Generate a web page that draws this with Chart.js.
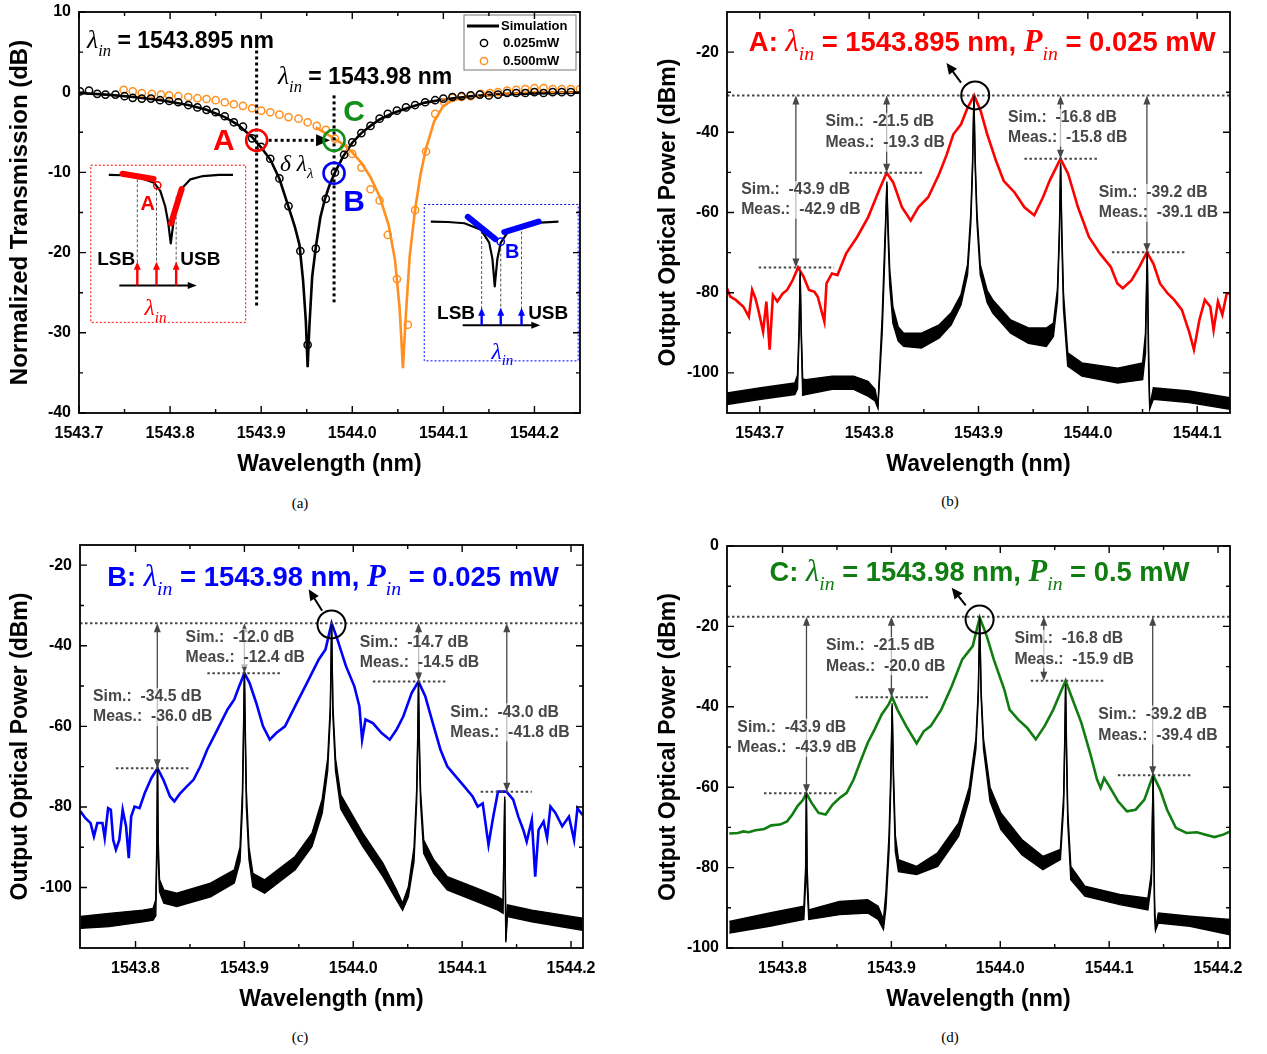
<!DOCTYPE html>
<html>
<head>
<meta charset="utf-8">
<script src="https://cdn.jsdelivr.net/npm/chart.js@4.4.1/dist/chart.umd.min.js"></script>
<style>
  body { margin: 0; background: #fff; width: 1267px; height: 1054px; position: relative; overflow: hidden; }
  canvas { position: absolute; }
  .cap { position: absolute; font: 15px "Liberation Serif", serif; transform: translateX(-50%); }
</style>
</head>
<body>
<canvas id="ca" width="600" height="478" style="left:0;top:0"></canvas>
<canvas id="cb" width="627" height="478" style="left:640px;top:0"></canvas>
<canvas id="cc" width="620" height="483" style="left:0;top:530px"></canvas>
<canvas id="cd" width="627" height="483" style="left:640px;top:530px"></canvas>
<div class="cap" style="left:300px;top:495px">(a)</div>
<div class="cap" style="left:950px;top:493px">(b)</div>
<div class="cap" style="left:300px;top:1029px">(c)</div>
<div class="cap" style="left:950px;top:1029px">(d)</div>
<script>
"use strict";

// ---------- (a) transmission ----------
const aSimX = [1543.700, 1543.730, 1543.760, 1543.790, 1543.820, 1543.840, 1543.860, 1543.875, 1543.890, 1543.900,
  1543.910, 1543.920, 1543.930, 1543.937, 1543.942, 1543.946, 1543.949, 1543.951, 1543.953, 1543.956,
  1543.960, 1543.965, 1543.970, 1543.975, 1543.981, 1543.990, 1544.000, 1544.010, 1544.020, 1544.030,
  1544.045, 1544.060, 1544.080, 1544.100, 1544.130, 1544.160, 1544.200, 1544.250];
const aSimY = [-0.1, -0.3, -0.6, -1.0, -1.6, -2.2, -3.1, -4.1, -5.6, -6.9,
  -8.4, -10.8, -14.3, -16.8, -19.0, -23.5, -28.5, -34.3, -29.0, -23.0,
  -19.3, -15.6, -13.3, -11.6, -10.0, -8.0, -6.3, -5.1, -4.2, -3.4,
  -2.6, -2.0, -1.3, -0.9, -0.5, -0.3, -0.15, -0.05];
const aSimHiX = [1543.960, 1543.975, 1543.990, 1544.000, 1544.010, 1544.020, 1544.030, 1544.040, 1544.047, 1544.052,
  1544.0556, 1544.059, 1544.063, 1544.069, 1544.075, 1544.081, 1544.090, 1544.100, 1544.110, 1544.130,
  1544.160, 1544.200, 1544.250];
const aSimHiY = [-4.4, -5.4, -6.5, -7.5, -8.8, -10.6, -13.0, -16.6, -21.0, -27.0,
  -34.4, -27.5, -20.5, -14.6, -10.2, -7.0, -3.6, -1.7, -1.0, -0.5,
  -0.2, -0.05, 0.0];
const aLowX = [1543.701, 1543.711, 1543.720, 1543.729, 1543.740, 1543.750, 1543.759, 1543.769, 1543.779, 1543.789,
  1543.799, 1543.809, 1543.820, 1543.830, 1543.840, 1543.850, 1543.860, 1543.870, 1543.880, 1543.890,
  1543.900, 1543.910, 1543.920, 1543.930, 1543.943, 1543.951, 1543.960, 1543.971, 1543.981, 1543.991,
  1544.000, 1544.010, 1544.020, 1544.030, 1544.039, 1544.049, 1544.059, 1544.069, 1544.080, 1544.091,
  1544.100, 1544.110, 1544.120, 1544.130, 1544.140, 1544.150, 1544.160, 1544.170, 1544.180, 1544.190,
  1544.200, 1544.210, 1544.220, 1544.230, 1544.240];
const aLowY = [0.1, 0.2, -0.2, -0.3, -0.3, -0.5, -0.7, -0.8, -0.8, -1.0,
  -1.1, -1.25, -1.6, -1.9, -2.2, -2.5, -3.0, -3.75, -4.3, -5.75,
  -6.8, -8.3, -10.75, -14.2, -19.8, -31.5, -19.5, -13.3, -10.0, -7.8,
  -6.25, -5.1, -4.2, -3.3, -2.7, -2.3, -1.9, -1.6, -1.25, -1.0,
  -0.8, -0.6, -0.5, -0.4, -0.3, -0.4, -0.3, -0.1, -0.1, -0.1,
  0.0, -0.1, 0.0, 0.0, 0.0];
const aHighX = [1543.749, 1543.759, 1543.769, 1543.780, 1543.790, 1543.799, 1543.809, 1543.820, 1543.830, 1543.840,
  1543.850, 1543.860, 1543.870, 1543.880, 1543.890, 1543.900, 1543.910, 1543.920, 1543.930, 1543.941,
  1543.951, 1543.961, 1543.971, 1543.981, 1543.991, 1544.000, 1544.010, 1544.020, 1544.030, 1544.039,
  1544.049, 1544.061, 1544.069, 1544.081, 1544.091, 1544.101, 1544.110, 1544.120, 1544.130, 1544.141,
  1544.151, 1544.160, 1544.170, 1544.180, 1544.190, 1544.200, 1544.210, 1544.220, 1544.230, 1544.240,
  1544.250];
const aHighY = [0.3, 0.1, -0.1, -0.2, -0.3, -0.4, -0.5, -0.6, -0.75, -0.85,
  -1.0, -1.25, -1.5, -1.7, -2.0, -2.3, -2.5, -2.8, -3.1, -3.3,
  -3.75, -4.2, -4.7, -5.8, -6.9, -7.7, -9.4, -12.1, -13.5, -17.8,
  -23.3, -29.0, -14.7, -7.4, -2.7, -1.25, -0.7, -0.6, -0.5, -0.2,
  -0.1, 0.0, 0.2, 0.3, 0.4, 0.5, 0.5, 0.4, 0.4, 0.4,
  0.4];
const aXTicks = [1543.7, 1543.8, 1543.9, 1544.0, 1544.1, 1544.2];
const aXMinor = [1543.75, 1543.85, 1543.95, 1544.05, 1544.15];
const aYTicks = [10, 0, -10, -20, -30, -40];
const aYMinor = [5, -5, -15, -25, -35];
const lambdaA = 1543.895, lambdaBC = 1543.98;

// ---------- (b) A: 1543.895 nm, 0.025 mW ----------
const bMeasX = [1543.670, 1543.673, 1543.678, 1543.685, 1543.690, 1543.693, 1543.696, 1543.699, 1543.703, 1543.706,
  1543.709, 1543.712, 1543.716, 1543.721, 1543.725, 1543.730, 1543.735, 1543.740, 1543.745, 1543.750,
  1543.753, 1543.759, 1543.761, 1543.766, 1543.771, 1543.779, 1543.789, 1543.799, 1543.809, 1543.816,
  1543.822, 1543.830, 1543.838, 1543.845, 1543.854, 1543.864, 1543.871, 1543.877, 1543.884, 1543.890,
  1543.896, 1543.902, 1543.908, 1543.916, 1543.923, 1543.933, 1543.942, 1543.951, 1543.959, 1543.965,
  1543.975, 1543.982, 1543.991, 1544.001, 1544.011, 1544.021, 1544.027, 1544.032, 1544.040, 1544.047,
  1544.054, 1544.060, 1544.066, 1544.073, 1544.079, 1544.086, 1544.093, 1544.097, 1544.102, 1544.107,
  1544.112, 1544.115, 1544.119, 1544.123, 1544.127, 1544.130];
const bMeasY = [-78.9, -81.0, -81.8, -83.5, -86.0, -79.3, -81.4, -84.7, -89.7, -82.2,
  -94.2, -80.6, -82.2, -80.2, -79.3, -76.9, -73.7, -76.0, -79.3, -79.8,
  -81.0, -87.2, -77.7, -75.2, -75.6, -70.2, -66.1, -61.2, -54.5, -50.1,
  -52.5, -58.7, -62.0, -58.7, -56.2, -50.4, -45.5, -40.5, -38.0, -33.9,
  -30.8, -34.7, -40.5, -47.1, -52.1, -55.0, -58.7, -60.7, -56.2, -52.1,
  -46.6, -50.4, -58.7, -66.1, -70.2, -73.6, -77.7, -78.9, -76.9, -73.6,
  -69.9, -72.8, -77.7, -80.2, -81.8, -84.3, -90.1, -94.2, -86.8, -81.8,
  -83.5, -89.3, -82.2, -85.5, -80.2, -80.2];
const bSimX = [1543.6700, 1543.7010, 1543.7320, 1543.7345, 1543.7360, 1543.7369, 1543.7378, 1543.7392, 1543.7420, 1543.7662,
  1543.7858, 1543.7989, 1543.8054, 1543.8080, 1543.8119, 1543.8142, 1543.8153, 1543.8162, 1543.8172, 1543.8188,
  1543.8217, 1543.8265, 1543.8315, 1543.8478, 1543.8641, 1543.8750, 1543.8840, 1543.8900, 1543.8930, 1543.8946,
  1543.8958, 1543.8970, 1543.8986, 1543.9016, 1543.9080, 1543.9131, 1543.9294, 1543.9457, 1543.9620, 1543.9685,
  1543.9722, 1543.9740, 1543.9751, 1543.9762, 1543.9777, 1543.9816, 1543.9946, 1544.0273, 1544.0501, 1544.0527,
  1544.0543, 1544.0556, 1544.0566, 1544.0599, 1544.0925, 1544.1300];
const bSimUp = [-105.0, -103.7, -102.5, -100.5, -88.0, -74.7, -88.0, -101.5, -101.7, -100.8,
  -100.8, -102.1, -104.1, -108.0, -85.9, -68.0, -60.0, -52.3, -62.0, -74.0,
  -83.5, -88.5, -90.1, -90.1, -88.0, -85.0, -80.5, -73.0, -60.0, -47.0,
  -30.8, -47.0, -60.0, -73.0, -79.5, -81.8, -86.8, -88.8, -88.8, -87.6,
  -79.0, -64.0, -47.6, -64.0, -80.0, -95.0, -97.5, -98.8, -97.5, -90.1,
  -70.0, -95.0, -108.4, -103.7, -104.5, -106.2];
const bSimLo = [-107.9, -106.6, -105.4, -104.0, -90.0, -75.4, -90.0, -105.6, -105.4, -104.1,
  -104.1, -105.8, -107.0, -108.8, -90.1, -72.0, -62.0, -53.0, -65.0, -78.0,
  -87.6, -92.0, -93.4, -93.8, -91.3, -88.0, -83.0, -75.5, -62.5, -49.0,
  -31.3, -49.0, -62.5, -75.5, -82.5, -85.1, -90.1, -92.6, -93.4, -90.9,
  -82.0, -66.0, -48.2, -67.0, -84.0, -98.3, -100.8, -102.5, -101.7, -95.0,
  -70.8, -99.0, -109.0, -106.6, -107.4, -109.1];
const bSimDb = [-43.9, -21.5, -16.8, -39.2];
const bMeasDb = [-42.9, -19.3, -15.8, -39.1];
const bCarrier = -30.8;
const bXTicks = [1543.7, 1543.8, 1543.9, 1544.0, 1544.1];
const bXMinor = [1543.75, 1543.85, 1543.95, 1544.05];
const bYTicks = [-20, -40, -60, -80, -100];
const bYMinor = [-30, -50, -70, -90];

// ---------- (c) B: 1543.98 nm, 0.025 mW ----------
const cMeasX = [1543.7494, 1543.7540, 1543.7587, 1543.7618, 1543.7649, 1543.7696, 1543.7717, 1543.7748, 1543.7773, 1543.7795,
  1543.7820, 1543.7851, 1543.7882, 1543.7913, 1543.7938, 1543.7960, 1543.7991, 1543.8037, 1543.8084, 1543.8146,
  1543.8202, 1543.8255, 1543.8317, 1543.8357, 1543.8410, 1543.8472, 1543.8534, 1543.8596, 1543.8658, 1543.8752,
  1543.8845, 1543.8907, 1543.8953, 1543.9000, 1543.9047, 1543.9109, 1543.9171, 1543.9233, 1543.9295, 1543.9373,
  1543.9466, 1543.9590, 1543.9683, 1543.9745, 1543.9801, 1543.9854, 1543.9932, 1544.0009, 1544.0056, 1544.0081,
  1544.0112, 1544.0180, 1544.0258, 1544.0335, 1544.0398, 1544.0460, 1544.0537, 1544.0599, 1544.0661, 1544.0739,
  1544.0801, 1544.0863, 1544.0941, 1544.1019, 1544.1096, 1544.1143, 1544.1189, 1544.1242, 1544.1283, 1544.1329,
  1544.1407, 1544.1469, 1544.1516, 1544.1562, 1544.1593, 1544.1640, 1544.1671, 1544.1702, 1544.1748, 1544.1780,
  1544.1811, 1544.1857, 1544.1919, 1544.1981, 1544.2028, 1544.2059, 1544.2106];
const cMeasY = [-81.1, -82.8, -84.0, -87.3, -84.0, -84.0, -87.7, -80.3, -80.7, -88.2,
  -90.6, -88.2, -80.7, -84.8, -92.7, -82.4, -79.9, -80.3, -76.6, -72.8,
  -70.4, -73.2, -77.4, -78.6, -76.6, -74.9, -73.2, -69.9, -65.8, -60.8,
  -55.8, -53.3, -50.0, -46.8, -49.2, -54.2, -60.0, -63.3, -61.6, -60.0,
  -55.0, -48.4, -43.4, -40.9, -34.4, -38.4, -45.0, -50.0, -55.0, -63.3,
  -58.3, -59.2, -61.6, -63.3, -60.8, -57.5, -51.7, -48.9, -52.5, -60.0,
  -65.8, -69.9, -72.4, -74.9, -77.4, -79.9, -79.1, -89.4, -82.8, -76.2,
  -76.2, -78.2, -82.4, -85.7, -88.6, -83.2, -97.3, -85.7, -83.6, -87.7,
  -79.9, -81.5, -84.8, -82.4, -88.2, -80.3, -82.0];
const cSimX = [1543.7494, 1543.7758, 1543.8068, 1543.8161, 1543.8186, 1543.8196, 1543.8202, 1543.8208, 1543.8220, 1543.8260,
  1543.8379, 1543.8689, 1543.8907, 1543.8960, 1543.8982, 1543.8992, 1543.9000, 1543.9008, 1543.9018, 1543.9042,
  1543.9078, 1543.9186, 1543.9466, 1543.9621, 1543.9715, 1543.9765, 1543.9789, 1543.9801, 1543.9813, 1543.9837,
  1543.9885, 1544.0087, 1544.0273, 1544.0398, 1544.0453, 1544.0506, 1544.0558, 1544.0582, 1544.0592, 1544.0599,
  1544.0606, 1544.0618, 1544.0647, 1544.0739, 1544.0863, 1544.1174, 1544.1329, 1544.1376, 1544.1391, 1544.1401,
  1544.1416, 1544.1640, 1544.2106];
const cSimUp = [-107.2, -106.4, -105.6, -105.2, -103.0, -88.0, -68.9, -88.0, -98.0, -100.6,
  -101.4, -98.9, -95.6, -90.0, -76.0, -60.0, -46.4, -60.0, -76.0, -90.0,
  -96.5, -98.1, -92.3, -86.5, -78.0, -68.0, -55.0, -34.4, -55.0, -68.0,
  -77.0, -86.5, -94.0, -100.6, -103.9, -99.8, -90.0, -76.0, -62.0, -49.1,
  -62.0, -76.0, -88.2, -93.1, -97.3, -100.6, -102.3, -103.1, -77.4, -113.0,
  -104.3, -105.6, -107.6];
const cSimLo = [-110.1, -109.7, -108.5, -108.1, -107.0, -92.0, -69.6, -92.0, -101.0, -103.9,
  -104.7, -102.3, -98.9, -93.5, -80.0, -63.0, -47.1, -63.0, -80.0, -93.0,
  -99.8, -101.4, -95.6, -89.8, -81.5, -71.0, -57.5, -35.0, -57.5, -71.0,
  -80.5, -89.8, -97.3, -103.1, -105.6, -102.3, -93.5, -79.0, -65.0, -49.8,
  -65.0, -79.0, -91.5, -96.5, -100.6, -103.9, -105.6, -106.4, -78.1, -113.6,
  -107.2, -108.5, -110.6];
const cSimDb = [-34.5, -12.0, -14.7, -43.0];
const cMeasDb = [-36.0, -12.4, -14.5, -41.8];
const cCarrier = -34.4;
const cXTicks = [1543.8, 1543.9, 1544.0, 1544.1, 1544.2];
const cXMinor = [1543.85, 1543.95, 1544.05, 1544.15];
const cYTicks = [-20, -40, -60, -80, -100];
const cYMinor = [-30, -50, -70, -90, -110];

// ---------- (d) C: 1543.98 nm, 0.5 mW ----------
const dMeasX = [1543.7511, 1543.7591, 1543.7640, 1543.7688, 1543.7752, 1543.7833, 1543.7897, 1543.7977, 1543.8042, 1543.8090,
  1543.8138, 1543.8187, 1543.8219, 1543.8267, 1543.8331, 1543.8396, 1543.8460, 1543.8524, 1543.8589, 1543.8653,
  1543.8717, 1543.8782, 1543.8846, 1543.8911, 1543.8975, 1543.9007, 1543.9055, 1543.9136, 1543.9232, 1543.9297,
  1543.9361, 1543.9458, 1543.9554, 1543.9651, 1543.9747, 1543.9811, 1543.9876, 1543.9940, 1544.0037, 1544.0085,
  1544.0165, 1544.0246, 1544.0326, 1544.0407, 1544.0487, 1544.0552, 1544.0600, 1544.0664, 1544.0745, 1544.0825,
  1544.0889, 1544.0922, 1544.0954, 1544.1002, 1544.1082, 1544.1163, 1544.1243, 1544.1324, 1544.1404, 1544.1468,
  1544.1532, 1544.1613, 1544.1710, 1544.1806, 1544.1887, 1544.1967, 1544.2048, 1544.2112];
const dMeasY = [-71.5, -71.4, -71.0, -71.2, -70.7, -70.4, -69.5, -69.3, -68.5, -66.8,
  -64.7, -63.2, -61.5, -63.9, -66.4, -66.8, -64.3, -62.7, -61.4, -58.1,
  -53.5, -49.0, -45.6, -41.9, -39.4, -37.6, -40.7, -44.8, -49.1, -46.1,
  -44.8, -40.7, -34.9, -28.2, -24.9, -17.8, -22.4, -28.2, -35.7, -40.7,
  -43.2, -45.2, -48.1, -44.8, -40.7, -36.5, -33.5, -38.2, -44.0, -51.5,
  -58.1, -60.2, -57.7, -59.8, -63.5, -66.0, -65.6, -63.1, -57.0, -60.6,
  -65.6, -70.1, -71.4, -71.2, -71.8, -72.4, -71.8, -71.0];
const dSimX = [1543.7511, 1543.7881, 1543.8196, 1543.8212, 1543.8219, 1543.8226, 1543.8241, 1543.8524, 1543.8782, 1543.8878,
  1543.8927, 1543.8950, 1543.8978, 1543.8995, 1543.9007, 1543.9019, 1543.9036, 1543.9065, 1543.9232, 1543.9425,
  1543.9618, 1543.9715, 1543.9776, 1543.9798, 1543.9811, 1543.9824, 1543.9846, 1543.9906, 1544.0005, 1544.0198,
  1544.0391, 1544.0552, 1544.0582, 1544.0592, 1544.0600, 1544.0609, 1544.0620, 1544.0648, 1544.0777, 1544.1098,
  1544.1356, 1544.1388, 1544.1404, 1544.1417, 1544.1426, 1544.1452, 1544.1742, 1544.2112];
const dSimUp = [-93.4, -91.3, -89.6, -80.0, -61.5, -80.0, -90.5, -88.4, -88.0, -89.6,
  -92.9, -86.0, -72.0, -56.0, -39.1, -56.0, -72.0, -78.0, -79.7, -76.3,
  -68.9, -60.0, -48.0, -36.0, -17.6, -36.0, -48.0, -60.0, -66.4, -73.0,
  -77.2, -75.5, -62.0, -48.0, -34.4, -50.0, -66.0, -79.7, -84.6, -86.7,
  -87.6, -81.3, -56.8, -88.0, -95.0, -91.3, -92.1, -92.9];
const dSimLo = [-96.3, -94.6, -92.9, -84.0, -62.2, -84.0, -92.9, -91.7, -91.3, -92.9,
  -95.4, -90.0, -76.0, -59.5, -39.8, -59.5, -76.0, -81.0, -81.7, -79.7,
  -72.2, -63.0, -50.5, -37.5, -18.2, -37.5, -50.5, -63.5, -70.5, -76.8,
  -80.5, -78.0, -65.0, -50.0, -35.1, -53.0, -69.0, -83.0, -87.1, -89.2,
  -90.5, -83.8, -57.5, -92.0, -95.6, -93.8, -94.6, -96.7];
const dSimDb = [-43.9, -21.5, -16.8, -39.2];
const dMeasDb = [-43.9, -20.0, -15.9, -39.4];
const dCarrier = -17.6;
const dXTicks = [1543.8, 1543.9, 1544.0, 1544.1, 1544.2];
const dXMinor = [1543.85, 1543.95, 1544.05, 1544.15];
const dYTicks = [0, -20, -40, -60, -80, -100];
const dYMinor = [-10, -30, -50, -70, -90];

const SANS = '"Liberation Sans", Arial, sans-serif';
const SERIF = '"Liberation Serif", "Times New Roman", serif';
const GREY = '#474747';
const ORANGE = '#ff8f1f';
Chart.defaults.font.family = SANS;

function pts(xs, ys) { return xs.map((x, i) => ({ x, y: ys[i] })); }

// mixed-font text: b = bold sans, i = italic serif, bi = bold italic serif, s = italic subscript
function rich(ctx, x, yMid, parts, size, color, dry) {
  const base = yMid + size * 0.36;
  let cx = x;
  ctx.save();
  ctx.fillStyle = color;
  ctx.textAlign = 'left';
  ctx.textBaseline = 'alphabetic';
  for (const [t, k] of parts) {
    let dy = 0;
    if (k === 'b') ctx.font = `bold ${size}px ${SANS}`;
    else if (k === 'i') ctx.font = `italic ${size * 1.12}px ${SERIF}`;
    else if (k === 'bi') ctx.font = `bold italic ${size * 1.12}px ${SERIF}`;
    else { ctx.font = `italic ${size * 0.72}px ${SERIF}`; dy = size * 0.32; }
    if (!dry) ctx.fillText(t, cx, base + dy);
    cx += ctx.measureText(t).width;
  }
  ctx.restore();
  return cx - x;
}

function head(ctx, x0, y0, x1, y1, len, wid) {
  const a = Math.atan2(y1 - y0, x1 - x0), c = Math.cos(a), s = Math.sin(a);
  ctx.beginPath();
  ctx.moveTo(x1, y1);
  ctx.lineTo(x1 - len * c + wid * s, y1 - len * s - wid * c);
  ctx.lineTo(x1 - len * c - wid * s, y1 - len * s + wid * c);
  ctx.closePath();
  ctx.fill();
}

function arrow(ctx, x0, y0, x1, y1, len, wid) {
  const a = Math.atan2(y1 - y0, x1 - x0);
  ctx.beginPath();
  ctx.moveTo(x0, y0);
  ctx.lineTo(x1 - len * 0.8 * Math.cos(a), y1 - len * 0.8 * Math.sin(a));
  ctx.stroke();
  head(ctx, x0, y0, x1, y1, len, wid);
}

// frame and inward ticks on all four sides
function boxPlugin(t) {
  return {
    id: 'box',
    afterDatasetsDraw(chart) {
      const { ctx, chartArea: a, scales: { x, y } } = chart;
      ctx.save();
      ctx.strokeStyle = '#000';
      ctx.lineWidth = 1.4;
      ctx.beginPath();
      const tx = (v, len) => {
        const p = x.getPixelForValue(v);
        ctx.moveTo(p, a.bottom); ctx.lineTo(p, a.bottom - len);
        ctx.moveTo(p, a.top); ctx.lineTo(p, a.top + len);
      };
      const ty = (v, len) => {
        const p = y.getPixelForValue(v);
        ctx.moveTo(a.left, p); ctx.lineTo(a.left + len, p);
        ctx.moveTo(a.right, p); ctx.lineTo(a.right - len, p);
      };
      t.xMajor.forEach(v => tx(v, 7));
      t.xMinor.forEach(v => tx(v, 4));
      t.yMajor.forEach(v => ty(v, 7));
      t.yMinor.forEach(v => ty(v, 4));
      ctx.stroke();
      ctx.lineWidth = 1.8;
      ctx.strokeRect(a.left, a.top, a.right - a.left, a.bottom - a.top);
      ctx.restore();
    }
  };
}

function baseOptions(L, T, yTitle) {
  return {
    responsive: false,
    animation: false,
    events: [],
    layout: { padding: { top: L.padTop, right: L.padRight, left: 0, bottom: 0 } },
    plugins: { legend: { display: false }, tooltip: { enabled: false } },
    elements: { line: { tension: 0 } },
    scales: {
      x: {
        type: 'linear', min: L.xMin, max: L.xMax,
        grid: { display: false, drawTicks: false }, border: { display: false },
        afterBuildTicks: s => { s.ticks = T.xMajor.map(v => ({ value: v })); },
        afterFit: s => { s.height = L.xAxisH; s.paddingLeft = 0; s.paddingRight = 0; },
        ticks: { padding: 11, color: '#000', font: { size: 16, weight: 'bold' }, maxRotation: 0, autoSkip: false,
          callback: v => v.toFixed(1) },
        title: { display: true, text: 'Wavelength (nm)', color: '#000', font: { size: 23, weight: 'bold' }, padding: 0 }
      },
      y: {
        type: 'linear', min: L.yMin, max: L.yMax,
        grid: { display: false, drawTicks: false }, border: { display: false },
        afterBuildTicks: s => { s.ticks = T.yMajor.map(v => ({ value: v })); },
        afterFit: s => { s.width = L.yAxisW; s.paddingTop = 0; s.paddingBottom = 0; },
        ticks: { padding: 8, color: '#000', font: { size: 16, weight: 'bold' }, autoSkip: false,
          callback: v => String(v) },
        title: { display: true, text: yTitle, color: '#000', font: { size: L.yTitleSize, weight: 'bold' },
          padding: { top: L.yTitlePad, bottom: 0 } }
      }
    }
  };
}

// ---------- panel (a) ----------
const insetA = {
  box: [1543.713, 1543.883, -9.1, -28.7], color: '#ff0000',
  curveX: [0.116, 0.214, 0.316, 0.408, 0.449, 0.480, 0.500, 0.516, 0.533, 0.557, 0.592, 0.643, 0.724, 0.827, 0.918],
  curveY: [0.062, 0.064, 0.079, 0.111, 0.165, 0.261, 0.368, 0.497, 0.368, 0.240, 0.143, 0.090, 0.069, 0.062, 0.062],
  segs: [[0.204, 0.054, 0.405, 0.088], [0.518, 0.370, 0.586, 0.152]],
  dot: [0.429, 0.128], letter: ['A', 0.367, 0.251],
  guides: [[0.300, 0.09], [0.424, 0.143], [0.551, 0.20]], guideBottom: 0.67,
  arrowBase: 0.765, arrowTip: 0.615, axis: [0.184, 0.684],
  lsbRight: 0.286, usbLeft: 0.578, sbY: 0.604, lam: [0.418, 0.904]
};
const insetB = {
  box: [1544.079, 1544.248, -14.0, -33.5], color: '#0000ff',
  curveX: [0.043, 0.154, 0.261, 0.368, 0.422, 0.443, 0.458, 0.475, 0.497, 0.540, 0.625, 0.754, 0.872],
  curveY: [0.110, 0.112, 0.120, 0.161, 0.244, 0.348, 0.524, 0.348, 0.244, 0.182, 0.141, 0.116, 0.110],
  segs: [[0.283, 0.079, 0.462, 0.222], [0.520, 0.176, 0.743, 0.110]],
  dot: [0.497, 0.238], letter: ['B', 0.572, 0.306],
  guides: [[0.373, 0.17], [0.497, 0.25], [0.632, 0.14]], guideBottom: 0.70,
  arrowBase: 0.772, arrowTip: 0.66, axis: [0.25, 0.754],
  lsbRight: 0.33, usbLeft: 0.675, sbY: 0.700, lam: [0.508, 0.938]
};

function drawInset(ctx, X, Y, s) {
  const L = X(s.box[0]), R = X(s.box[1]), T = Y(s.box[2]), B = Y(s.box[3]);
  const W = R - L, H = B - T;
  const px = f => L + f * W, py = f => T + f * H;
  ctx.save();
  ctx.strokeStyle = s.color; ctx.lineWidth = 1; ctx.setLineDash([2, 2]);
  ctx.strokeRect(L, T, W, H);
  ctx.strokeStyle = '#555'; ctx.setLineDash([3, 2]);
  s.guides.forEach(([gx, gt]) => {
    ctx.beginPath(); ctx.moveTo(px(gx), py(gt)); ctx.lineTo(px(gx), py(s.guideBottom)); ctx.stroke();
  });
  ctx.setLineDash([]);
  ctx.strokeStyle = '#000'; ctx.lineWidth = 2.2; ctx.lineJoin = 'round';
  ctx.beginPath();
  s.curveX.forEach((f, i) => { i ? ctx.lineTo(px(f), py(s.curveY[i])) : ctx.moveTo(px(f), py(s.curveY[i])); });
  ctx.stroke();
  ctx.strokeStyle = s.color; ctx.lineWidth = 6; ctx.lineCap = 'round';
  s.segs.forEach(([x0, y0, x1, y1]) => {
    ctx.beginPath(); ctx.moveTo(px(x0), py(y0)); ctx.lineTo(px(x1), py(y1)); ctx.stroke();
  });
  ctx.lineCap = 'butt'; ctx.lineWidth = 1.5;
  ctx.beginPath(); ctx.arc(px(s.dot[0]), py(s.dot[1]), 3.6, 0, Math.PI * 2); ctx.stroke();
  ctx.fillStyle = s.color; ctx.font = `bold 20px ${SANS}`; ctx.textAlign = 'center'; ctx.textBaseline = 'middle';
  ctx.fillText(s.letter[0], px(s.letter[1]), py(s.letter[2]));
  ctx.strokeStyle = '#000'; ctx.fillStyle = '#000'; ctx.lineWidth = 2;
  arrow(ctx, px(s.axis[0]), py(s.arrowBase), px(s.axis[1]), py(s.arrowBase), 9, 3.5);
  ctx.strokeStyle = s.color; ctx.fillStyle = s.color; ctx.lineWidth = 2.4;
  s.guides.forEach(([gx]) => arrow(ctx, px(gx), py(s.arrowBase), px(gx), py(s.arrowTip), 8, 3.5));
  ctx.fillStyle = '#000'; ctx.font = `bold 19px ${SANS}`; ctx.textBaseline = 'middle';
  ctx.textAlign = 'right'; ctx.fillText('LSB', px(s.lsbRight), py(s.sbY));
  ctx.textAlign = 'left'; ctx.fillText('USB', px(s.usbLeft), py(s.sbY));
  const lp = [['λ', 'i'], ['in', 's']];
  const w = rich(ctx, 0, 0, lp, 21, s.color, true);
  rich(ctx, px(s.lam[0]) - w / 2, py(s.lam[1]), lp, 21, s.color);
  ctx.restore();
}

const aMarks = {
  id: 'aMarks',
  afterDatasetsDraw(chart) {
    const { ctx, chartArea: a, scales: { x, y } } = chart;
    const X = v => x.getPixelForValue(v), Y = v => y.getPixelForValue(v);
    ctx.save();
    // input wavelength markers
    ctx.strokeStyle = '#000'; ctx.lineWidth = 3; ctx.setLineDash([3, 3]);
    [[lambdaA, 5.2, -26.6], [lambdaBC, -0.4, -26.2]].forEach(([gx, g0, g1]) => {
      ctx.beginPath(); ctx.moveTo(X(gx), Y(g0)); ctx.lineTo(X(gx), Y(g1)); ctx.stroke();
    });
    // shift of the operating point A -> C
    const ay = Y(-6.0), ax0 = X(lambdaA) + 12, ax1 = X(lambdaBC) - 4;
    ctx.beginPath(); ctx.moveTo(ax0, ay); ctx.lineTo(ax1 - 12, ay); ctx.stroke();
    ctx.setLineDash([]);
    ctx.fillStyle = '#000';
    head(ctx, ax0, ay, ax1, ay, 14, 6);
    rich(ctx, X(1543.9207), Y(-8.9), [['δ ', 'i'], ['λ', 'i'], ['λ', 's']], 21, '#000');
    // wavelength labels
    rich(ctx, X(1543.7088), Y(6.5), [['λ', 'i'], ['in', 's'], [' = 1543.895 nm', 'b']], 23, '#000');
    rich(ctx, X(1543.9184), Y(2.0), [['λ', 'i'], ['in', 's'], [' = 1543.98 nm', 'b']], 23, '#000');
    // operating points
    ctx.lineWidth = 2.6;
    [[lambdaA, -6.0, '#ff0000'], [lambdaBC, -6.0, '#10901a'], [lambdaBC, -10.1, '#0000ff']].forEach(([cx, cy, col]) => {
      ctx.strokeStyle = col; ctx.beginPath(); ctx.arc(X(cx), Y(cy), 10.5, 0, Math.PI * 2); ctx.stroke();
    });
    ctx.font = `bold 30px ${SANS}`; ctx.textAlign = 'center'; ctx.textBaseline = 'middle';
    ctx.fillStyle = '#ff0000'; ctx.fillText('A', X(1543.859), Y(-6.2));
    ctx.fillStyle = '#10901a'; ctx.fillText('C', X(1544.002), Y(-2.5));
    ctx.fillStyle = '#0000ff'; ctx.fillText('B', X(1544.002), Y(-13.75));
    drawInset(ctx, X, Y, insetA);
    drawInset(ctx, X, Y, insetB);
    // legend
    const L = a.right - 116, T = a.top + 3;
    ctx.fillStyle = '#fff'; ctx.fillRect(L, T, 112, 55);
    ctx.strokeStyle = '#777'; ctx.lineWidth = 1; ctx.strokeRect(L, T, 112, 55);
    ctx.strokeStyle = '#000'; ctx.lineWidth = 3;
    ctx.beginPath(); ctx.moveTo(L + 3, T + 11); ctx.lineTo(L + 35, T + 11); ctx.stroke();
    ctx.lineWidth = 1.5;
    ctx.beginPath(); ctx.arc(L + 20, T + 28, 3.6, 0, Math.PI * 2); ctx.stroke();
    ctx.strokeStyle = ORANGE;
    ctx.beginPath(); ctx.arc(L + 20, T + 46, 3.6, 0, Math.PI * 2); ctx.stroke();
    ctx.fillStyle = '#000'; ctx.font = `bold 13px ${SANS}`; ctx.textAlign = 'left';
    ctx.fillText('Simulation', L + 37, T + 11);
    ctx.fillText('0.025mW', L + 39, T + 28);
    ctx.fillText('0.500mW', L + 39, T + 46);
    ctx.restore();
  }
};

const La = { xMin: 1543.7, xMax: 1544.25, yMin: -40, yMax: 10, padTop: 12, padRight: 20, yAxisW: 79, xAxisH: 65,
  yTitlePad: 6, yTitleSize: 24 };
const Ta = { xMajor: aXTicks, xMinor: aXMinor, yMajor: aYTicks, yMinor: aYMinor };
new Chart(document.getElementById('ca'), {
  type: 'line',
  data: {
    datasets: [
      { data: pts(aLowX, aLowY), showLine: false, pointRadius: 3.6, pointBorderWidth: 1.5,
        pointBorderColor: '#000', pointBackgroundColor: 'rgba(0,0,0,0)', order: 0 },
      { data: pts(aHighX, aHighY), showLine: false, pointRadius: 3.6, pointBorderWidth: 1.5,
        pointBorderColor: ORANGE, pointBackgroundColor: 'rgba(0,0,0,0)', order: 0 },
      { data: pts(aSimX, aSimY), borderColor: '#000', borderWidth: 2.6, pointRadius: 0, order: 1 },
      { data: pts(aSimHiX, aSimHiY), borderColor: ORANGE, borderWidth: 2.6, pointRadius: 0, order: 1 }
    ]
  },
  options: baseOptions(La, Ta, 'Normalized Transmission (dB)'),
  plugins: [aMarks, boxPlugin(Ta)]
});

// ---------- spectra (b), (c), (d) ----------
function drawSpectrumMarks(chart, d) {
  const { ctx, chartArea: a, scales: { x, y } } = chart;
  const X = v => x.getPixelForValue(v), Y = v => y.getPixelForValue(v);
  ctx.save();
  ctx.strokeStyle = GREY; ctx.lineWidth = 2; ctx.setLineDash([2.5, 2.5]);
  ctx.beginPath(); ctx.moveTo(a.left, Y(d.carrier)); ctx.lineTo(a.right, Y(d.carrier)); ctx.stroke();
  d.meas.forEach((m, i) => {
    const lv = Y(d.carrier + m);
    ctx.beginPath(); ctx.moveTo(X(d.span[i][0]), lv); ctx.lineTo(X(d.span[i][1]), lv); ctx.stroke();
  });
  ctx.setLineDash([]);
  ctx.lineWidth = 1.3; ctx.fillStyle = GREY;
  d.meas.forEach((m, i) => {
    const ax = X(d.arrowX[i]), y0 = Y(d.carrier), y1 = Y(d.carrier + m);
    ctx.beginPath(); ctx.moveTo(ax, y0 + 7); ctx.lineTo(ax, y1 - 7); ctx.stroke();
    head(ctx, ax, y1, ax, y0, 9, 3.5);
    head(ctx, ax, y0, ax, y1, 9, 3.5);
  });
  ctx.font = `bold 15.8px ${SANS}`; ctx.textAlign = 'left'; ctx.textBaseline = 'middle';
  d.text.forEach(([tx, sy, my], i) => {
    const s1 = 'Sim.:  ' + d.sim[i].toFixed(1) + ' dB';
    const s2 = 'Meas.:  ' + d.meas[i].toFixed(1) + ' dB';
    const lx = X(tx), w = Math.max(ctx.measureText(s1).width, ctx.measureText(s2).width);
    ctx.fillStyle = 'rgba(255,255,255,0.65)';
    ctx.fillRect(lx - 1, Y(sy) - 9, w + 2, Y(my) - Y(sy) + 18);
    ctx.fillStyle = GREY;
    ctx.fillText(s1, lx, Y(sy));
    ctx.fillText(s2, lx, Y(my));
  });
  // carrier marker and title
  ctx.strokeStyle = '#000'; ctx.fillStyle = '#000'; ctx.lineWidth = 2;
  ctx.beginPath(); ctx.arc(X(d.circle[0]), Y(d.circle[1]), 14, 0, Math.PI * 2); ctx.stroke();
  arrow(ctx, X(d.pointer[0]), Y(d.pointer[1]), X(d.pointer[2]), Y(d.pointer[3]), 11, 5);
  const target = X(d.title[2]) - X(d.title[0]);
  const size = 26 * target / rich(ctx, 0, 0, d.titleParts, 26, d.color, true);
  rich(ctx, X(d.title[0]), Y(d.title[1]), d.titleParts, size, d.color);
  ctx.restore();
}

function spectrum(id, d) {
  const T = { xMajor: d.xTicks, xMinor: d.xMinor, yMajor: d.yTicks, yMinor: d.yMinor };
  return new Chart(document.getElementById(id), {
    type: 'line',
    data: {
      datasets: [
        { data: pts(d.simX, d.simUp), borderColor: '#000', borderWidth: 1.4, pointRadius: 0, fill: false, order: 1 },
        { data: pts(d.simX, d.simLo), borderColor: '#000', borderWidth: 1.4, pointRadius: 0, fill: '-1',
          backgroundColor: '#000', order: 1 },
        { data: pts(d.measX, d.measY), borderColor: d.color, borderWidth: 2.6, pointRadius: 0, fill: false, order: 2 }
      ]
    },
    options: baseOptions(d.layout, T, 'Output Optical Power (dBm)'),
    plugins: [{ id: 'marks', afterDatasetsDraw: chart => drawSpectrumMarks(chart, d) }, boxPlugin(T)]
  });
}

spectrum('cb', {
  layout: { xMin: 1543.67, xMax: 1544.13, yMin: -110, yMax: -10, padTop: 12, padRight: 37, yAxisW: 87, xAxisH: 65,
    yTitlePad: 15, yTitleSize: 23 },
  xTicks: bXTicks, xMinor: bXMinor, yTicks: bYTicks, yMinor: bYMinor,
  simX: bSimX, simUp: bSimUp, simLo: bSimLo, measX: bMeasX, measY: bMeasY,
  color: '#ff0000', carrier: bCarrier, sim: bSimDb, meas: bMeasDb,
  span: [[1543.699, 1543.768], [1543.782, 1543.849], [1543.942, 1544.010], [1544.022, 1544.089]],
  arrowX: [1543.733, 1543.816, 1543.975, 1544.054],
  text: [[1543.683, -54.4, -59.3], [1543.760, -37.4, -42.6], [1543.927, -36.4, -41.3], [1544.010, -55.1, -60.1]],
  circle: [1543.897, -30.8], pointer: [1543.884, -27.6, 1543.8707, -22.7],
  title: [1543.690, -17.2, 1544.117],
  titleParts: [['A: ', 'b'], ['λ', 'i'], ['in', 's'], [' = 1543.895 nm, ', 'b'], ['P', 'bi'], ['in', 's'], [' = 0.025 mW', 'b']]
});

spectrum('cc', {
  layout: { xMin: 1543.749, xMax: 1544.211, yMin: -115, yMax: -15, padTop: 15, padRight: 37, yAxisW: 80, xAxisH: 65,
    yTitlePad: 7, yTitleSize: 23 },
  xTicks: cXTicks, xMinor: cXMinor, yTicks: cYTicks, yMinor: cYMinor,
  simX: cSimX, simUp: cSimUp, simLo: cSimLo, measX: cMeasX, measY: cMeasY,
  color: '#0000ff', carrier: cCarrier, sim: cSimDb, meas: cMeasDb,
  span: [[1543.782, 1543.850], [1543.866, 1543.934], [1544.018, 1544.086], [1544.117, 1544.164]],
  arrowX: [1543.820, 1543.900, 1544.060, 1544.141],
  text: [[1543.761, -52.7, -57.7], [1543.846, -38.0, -43.0], [1544.006, -39.2, -44.2], [1544.089, -56.5, -61.5]],
  circle: [1543.980, -34.7], pointer: [1543.9714, -31.3, 1543.959, -26.0],
  title: [1543.774, -22.7, 1544.189],
  titleParts: [['B: ', 'b'], ['λ', 'i'], ['in', 's'], [' = 1543.98 nm, ', 'b'], ['P', 'bi'], ['in', 's'], [' = 0.025 mW', 'b']]
});

spectrum('cd', {
  layout: { xMin: 1543.749, xMax: 1544.211, yMin: -100, yMax: 0, padTop: 16, padRight: 37, yAxisW: 87, xAxisH: 65,
    yTitlePad: 15, yTitleSize: 23 },
  xTicks: dXTicks, xMinor: dXMinor, yTicks: dYTicks, yMinor: dYMinor,
  simX: dSimX, simUp: dSimUp, simLo: dSimLo, measX: dMeasX, measY: dMeasY,
  color: '#0f7d0f', carrier: dCarrier, sim: dSimDb, meas: dMeasDb,
  span: [[1543.783, 1543.852], [1543.867, 1543.935], [1544.028, 1544.095], [1544.108, 1544.176]],
  arrowX: [1543.822, 1543.900, 1544.040, 1544.140],
  text: [[1543.7585, -45.2, -50.2], [1543.840, -24.9, -29.9], [1544.013, -23.1, -28.2], [1544.090, -41.9, -47.1]],
  circle: [1543.981, -18.3], pointer: [1543.9683, -14.8, 1543.9554, -10.4],
  title: [1543.788, -6.2, 1544.174],
  titleParts: [['C: ', 'b'], ['λ', 'i'], ['in', 's'], [' = 1543.98 nm, ', 'b'], ['P', 'bi'], ['in', 's'], [' = 0.5 mW', 'b']]
});
</script>
</body>
</html>
